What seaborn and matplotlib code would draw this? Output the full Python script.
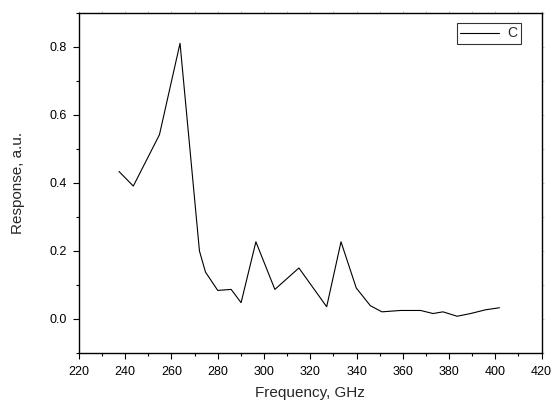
import seaborn as sns
import matplotlib.pyplot as plt
import pandas as pd
from matplotlib.ticker import MultipleLocator

# frequency (GHz) and response (a.u.)
freq = [237.3, 243.5, 254.8, 263.7, 272.1, 274.7, 280.0, 285.8, 290.1, 296.5,
        304.7, 315.1, 327.1, 333.3, 339.9, 346.0, 351.0, 359.0, 367.7, 373.1,
        377.4, 383.5, 389.3, 395.8, 401.8]
resp = [0.433, 0.390, 0.541, 0.810, 0.199, 0.137, 0.083, 0.086, 0.047, 0.226,
        0.086, 0.149, 0.035, 0.226, 0.090, 0.038, 0.020, 0.024, 0.024, 0.015,
        0.020, 0.007, 0.015, 0.026, 0.032]

df = pd.DataFrame({"freq": freq, "resp": resp})

sns.set_style("ticks")
plt.rcParams['font.family'] = ['Liberation Sans', 'DejaVu Sans']

fig = plt.figure(figsize=(5.56, 4.03), dpi=100)
ax = fig.add_axes([0.142, 0.125, 0.832, 0.8435])

sns.lineplot(x="freq", y="resp", data=df, color="black", linewidth=0.8,
             sort=False, label="C", ax=ax)

ax.set_xlim(220, 420)
ax.set_ylim(-0.1, 0.9)
ax.xaxis.set_major_locator(MultipleLocator(20))
ax.xaxis.set_minor_locator(MultipleLocator(10))
ax.yaxis.set_major_locator(MultipleLocator(0.2))
ax.yaxis.set_minor_locator(MultipleLocator(0.1))
ax.tick_params(which="both", direction="out", labelsize=9, width=0.8,
               colors="black")
ax.tick_params(which="major", length=4.5)
ax.tick_params(which="minor", length=2.5)
ax.tick_params(axis="x", pad=5)
ax.tick_params(axis="y", pad=4)
for s in ax.spines.values():
    s.set_linewidth(1.0)
    s.set_color("black")

# faint little ticks on the top and right edges
top = ax.secondary_xaxis("top")
top.xaxis.set_major_locator(MultipleLocator(10))
top.tick_params(length=1.5, width=0.6, colors="#bbbbbb", labeltop=False)
top.spines["top"].set_visible(False)
right = ax.secondary_yaxis("right")
right.yaxis.set_major_locator(MultipleLocator(0.1))
right.tick_params(length=1.5, width=0.6, colors="#bbbbbb", labelright=False)
right.spines["right"].set_visible(False)

ax.set_xlabel("Frequency, GHz", fontsize=11, labelpad=6)
ax.set_ylabel("Response, a.u.", fontsize=11, labelpad=18)

leg = ax.legend(loc="upper right", fontsize=10, frameon=True, fancybox=False,
                edgecolor="black", handlelength=2.8, borderpad=0.25,
                handletextpad=0.6, borderaxespad=0,
                bbox_to_anchor=(0.955, 0.97))
leg.get_frame().set_linewidth(0.8)

fig.savefig("out.png", dpi=100)
